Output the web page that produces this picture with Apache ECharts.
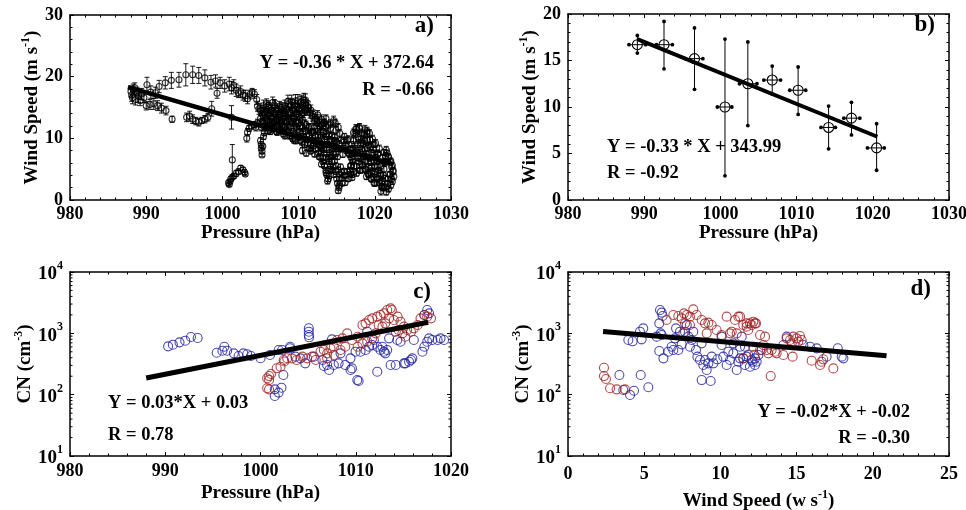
<!DOCTYPE html>
<html><head><meta charset="utf-8">
<script src="https://cdn.jsdelivr.net/npm/echarts@6/dist/echarts.min.js"></script>
<style>html,body{margin:0;padding:0;background:#fff}#c{width:966px;height:510px}</style>
</head><body><div id="c"></div><script>
// ---------- Panel a: pressure vs wind speed (with error bars) [pressure, wind, err]
const aPoints = [
[988.0,17.6,0.9],[988.1,17.0,1.0],[988.2,16.6,1.0],[988.3,17.9,0.9],[988.5,18.2,0.8],[988.6,16.3,0.9],[988.8,17.4,0.9],[989.0,16.8,1.0],[989.2,16.1,0.8],[989.4,17.2,0.9],[989.7,16.6,0.8],
[990.0,15.3,0.7],[990.5,15.5,0.8],[991.0,15.6,0.9],[991.5,15.3,0.8],[992.0,14.9,0.8],[992.6,14.5,0.7],[993.4,13.1,0.5],
[990.1,18.7,1.2],[990.6,17.5,1.0],[991.2,17.4,0.9],[991.7,18.4,1.0],[992.5,19.0,1.0],[993.3,19.4,1.3],[994.3,19.5,1.2],[995.2,20.3,1.8],[996.1,20.3,1.4],[996.9,20.2,1.3],[997.7,19.8,1.3],[998.5,19.1,1.1],[999.1,19.3,1.0],[999.3,17.3,0.8],[999.7,19.0,0.9],[1000.3,18.5,1.0],[1000.9,18.8,1.1],[1001.2,18.2,1.0],[1001.5,18.6,0.9],[1001.8,17.8,1.0],[1002.1,17.4,0.8],[1002.4,17.6,0.9],[1002.7,17.0,0.8],[1003.0,16.9,0.9],[1003.3,16.4,0.8],[1003.6,17.1,0.7],[1003.9,17.5,0.6],[1004.2,17.2,0.7],[1004.5,16.3,0.8],[1004.6,15.2,0.8],[1004.8,14.8,0.9],
[995.3,13.4,0.7],[995.7,13.6,0.8],[996.1,13.1,0.7],[996.5,12.8,0.6],[996.9,12.6,0.6],[997.3,12.9,0.5],[997.7,13.1,0.6],[998.1,13.4,0.6],[998.6,14.8,1.2],[1001.2,13.4,1.9],[1001.3,6.5,2.5],
[1000.8,2.8,0.4],[1000.9,2.5,0.3],[1001.0,3.0,0.3],[1001.1,3.4,0.4],[1001.3,3.7,0.4],[1001.5,3.9,0.4],[1001.8,4.3,0.5],[1002.1,4.6,0.4],[1002.4,5.2,0.4],[1002.7,4.9,0.4],[1002.9,4.5,0.4],[1003.0,4.2,0.3],
[1003.2,10.0,0.6],[1003.3,11.0,0.6],[1003.5,11.6,0.5],[1003.8,12.0,0.5],[1004.2,12.2,0.5],
[1005.0,9.6,0.5],[1005.1,9.0,0.5],[1005.1,8.4,0.4],[1005.2,7.9,0.4],[1005.2,7.3,0.3],[1005.3,8.7,0.4],[1005.4,10.3,0.5],[1005.5,10.9,0.5],
[1005.0,14.5,0.8],[1005.3,13.8,0.7],[1005.6,14.2,0.8],[1005.9,13.0,0.7],[1006.1,15.0,0.8],[1006.3,13.6,0.8],[1006.5,12.5,0.6],[1006.7,14.3,0.7],[1006.9,15.2,0.9],[1007.1,13.1,0.7],[1007.3,14.6,0.8],[1007.5,12.2,0.6],[1007.7,15.0,0.8],[1007.9,13.9,0.8],[1008.1,11.8,0.6],[1008.3,14.8,0.8],[1008.5,12.9,0.7],[1008.7,15.6,0.9],[1008.9,14.2,0.8],[1009.1,16.0,1.0],[1009.3,13.4,0.7],[1009.5,15.3,0.9],[1009.7,12.4,0.6],[1009.9,16.1,1.0],[1010.1,14.8,0.9],[1010.3,15.8,1.0],[1010.5,13.0,0.7],[1010.7,16.2,1.1],[1010.9,15.4,0.9],[1011.1,14.6,0.8],[1011.3,15.0,0.9],[1011.5,14.1,0.8],[1011.8,13.6,0.8],[1012.1,12.8,0.7],[1012.4,13.1,0.7],[1012.7,12.6,0.7],[1013.0,12.2,0.6],[1013.3,12.5,0.6],[1013.6,11.9,0.6],[1013.9,12.1,0.6],[1014.2,11.6,0.6],[1014.6,12.9,0.7],[1014.9,11.3,0.6],
[1005.2,12.6,0.6],[1005.8,15.6,0.8],[1006.2,12.0,0.6],[1006.6,15.8,0.9],[1007.0,12.8,0.6],[1007.4,13.8,0.7],[1007.8,12.9,0.7],[1008.2,13.5,0.7],[1008.6,11.2,0.6],[1009.0,12.6,0.6],[1009.4,14.4,0.8],[1009.8,13.8,0.7],[1010.2,12.0,0.6],[1010.6,14.2,0.8],[1011.0,12.2,0.6],[1011.4,11.8,0.6],[1011.9,11.0,0.6],[1012.5,11.6,0.6],[1013.2,10.9,0.6],[1014.0,10.4,0.5],
[1005.6,11.8,0.6],[1006.0,11.2,0.5],[1006.4,11.5,0.6],[1006.8,11.9,0.6],[1007.2,11.0,0.5],[1007.6,11.4,0.6],[1008.0,10.7,0.5],[1008.4,11.2,0.6],[1008.8,10.4,0.5],[1009.2,10.0,0.5],[1009.6,9.6,0.5],[1010.0,10.2,0.5],[1010.4,9.4,0.5],[1010.8,9.0,0.5],[1011.2,9.3,0.5],[1011.6,8.4,0.4],[1012.0,8.8,0.5],[1012.4,9.5,0.5],[1012.8,8.9,0.5],[1009.4,11.6,0.6],[1010.6,11.0,0.6],[1011.4,10.6,0.6],[1012.2,10.4,0.5],[1012.9,10.1,0.5],
[1010.5,8.0,0.5],[1011.0,7.6,0.5],[1011.6,7.9,0.4],[1012.1,7.4,0.4],
[1013.0,7.9,0.5],[1013.2,6.8,0.4],[1013.4,5.6,0.4],[1013.6,4.4,0.4],[1013.8,3.1,0.5],[1014.0,3.9,0.4],[1014.2,5.0,0.4],[1014.4,6.3,0.4],[1014.6,7.4,0.5],[1014.8,8.6,0.5],[1015.0,9.4,0.5],[1015.2,1.5,0.4],[1015.3,2.3,0.4],[1015.4,3.4,0.4],[1015.6,4.5,0.4],[1015.1,7.0,0.4],[1015.6,8.3,0.5],[1015.9,9.7,0.5],[1016.2,8.8,0.5],[1016.0,4.0,0.4],[1016.4,4.6,0.4],[1016.8,4.2,0.4],[1017.2,4.6,0.5],[1017.6,4.3,0.4],[1013.5,9.0,0.5],[1014.0,8.2,0.5],[1014.3,9.6,0.5],[1013.7,10.7,0.5],[1014.7,10.2,0.5],[1015.4,10.8,0.6],[1016.0,10.3,0.5],[1016.5,9.9,0.5],
[1012.7,7.0,0.4],[1013.0,5.8,0.4],[1012.9,8.6,0.5],[1013.9,6.6,0.4],[1014.5,5.3,0.4],[1014.9,4.6,0.4],[1015.5,5.4,0.4],[1015.8,7.4,0.5],[1016.3,8.0,0.5],[1016.1,2.8,0.4],[1016.5,3.4,0.4],[1017.0,3.6,0.4],[1016.9,5.6,0.4],[1014.1,7.0,0.4],[1013.3,8.2,0.5],
[1016.7,7.4,0.5],[1017.0,8.3,0.5],[1017.2,9.6,0.5],[1017.4,10.8,0.6],[1017.6,11.5,0.7],[1017.8,10.2,0.6],[1018.0,11.7,0.7],[1018.2,9.2,0.6],[1018.4,8.0,0.5],[1018.6,10.6,0.6],[1018.8,7.1,0.5],[1019.0,9.7,0.6],[1019.2,6.2,0.5],[1019.4,8.6,0.5],[1019.6,5.3,0.5],[1019.8,7.6,0.5],[1020.0,4.6,0.5],[1020.1,9.2,0.6],[1020.2,3.6,0.5],[1017.1,6.6,0.5],[1017.5,7.8,0.5],[1017.9,6.8,0.5],[1018.3,5.8,0.5],[1018.7,5.0,0.5],[1019.1,4.3,0.5],[1019.5,3.5,0.5],[1019.9,2.8,0.5],
[1017.3,5.5,0.5],[1018.1,4.8,0.5],[1018.5,9.8,0.6],[1019.3,10.8,0.6],[1019.7,9.9,0.6],[1019.9,6.4,0.5],[1020.3,5.5,0.5],[1020.4,7.4,0.5],[1019.0,11.2,0.6],[1018.9,3.8,0.5],
[1020.8,1.4,0.6],[1020.9,2.2,0.5],[1021.0,3.1,0.5],[1021.1,4.0,0.5],[1021.2,5.0,0.5],[1021.3,6.0,0.5],[1021.4,7.2,0.5],[1021.5,8.1,0.6],[1021.6,7.6,0.5],[1021.8,6.9,0.5],[1022.0,6.2,0.5],[1022.2,5.4,0.5],[1022.4,4.6,0.5],[1022.5,3.8,0.5],[1022.3,3.0,0.5],[1022.1,2.4,0.5],[1021.8,1.8,0.5],[1021.5,1.3,0.5],[1021.2,2.0,0.5],[1020.6,2.8,0.5],[1020.7,4.3,0.5],[1021.7,3.4,0.4],[1022.0,4.2,0.4]
];
// more samples from the dense part of the trajectory
const aPointsDense = [
[1008.6,16.0,1.0],[1009.6,16.1,1.0],[1010.4,15.9,1.1],[1010.9,16.2,1.0],
[1005.4,15.3,0.9],[1006.0,15.3,0.8],[1006.8,15.4,0.9],[1007.5,15.2,0.8],[1008.2,15.3,0.9],[1009.0,15.4,0.9],[1009.8,15.2,0.9],[1010.6,15.3,1.0],[1011.2,15.2,0.9],
[1005.2,14.6,0.8],[1005.8,14.7,0.8],[1006.4,14.5,0.8],[1007.0,14.6,0.8],[1007.8,14.7,0.8],[1008.4,14.5,0.8],[1009.2,14.6,0.9],[1010.0,14.7,0.8],[1010.8,14.5,0.8],[1011.6,14.6,0.8],
[1005.5,13.9,0.7],[1006.2,13.9,0.7],[1006.9,14.0,0.8],[1007.6,13.8,0.7],[1008.3,13.9,0.7],[1009.0,14.0,0.8],[1009.7,13.9,0.7],[1010.4,13.8,0.7],[1011.9,13.9,0.7],[1012.5,13.8,0.7],
[1005.0,13.2,0.7],[1005.7,13.3,0.7],[1006.5,13.2,0.7],[1007.2,13.2,0.7],[1007.9,13.3,0.7],[1008.7,13.2,0.7],[1009.4,13.2,0.7],[1010.2,13.3,0.7],[1012.2,13.2,0.7],[1013.0,13.1,0.7],[1013.6,13.2,0.6],
[1004.6,12.5,0.6],[1005.4,12.5,0.6],[1006.0,12.6,0.6],[1006.8,12.4,0.6],[1007.6,12.5,0.6],[1008.4,12.5,0.6],[1009.2,12.6,0.6],[1010.0,12.5,0.6],[1010.8,12.4,0.6],[1013.4,12.5,0.6],[1014.2,12.4,0.6],[1014.8,12.5,0.6],
[1004.4,11.8,0.6],[1005.1,11.8,0.6],[1005.9,11.9,0.6],[1006.7,11.7,0.6],[1007.4,11.8,0.6],[1008.1,11.8,0.6],[1008.9,11.9,0.6],[1009.7,11.8,0.6],[1010.5,11.7,0.6],[1011.3,11.8,0.6],[1012.0,11.8,0.6],[1012.8,11.9,0.6],[1015.2,11.8,0.6],
[1006.3,11.1,0.5],[1007.1,11.1,0.5],[1007.9,11.2,0.5],[1008.6,11.0,0.5],[1009.3,11.1,0.5],[1010.1,11.1,0.5],[1010.9,11.2,0.5],[1011.7,11.0,0.5],[1012.5,11.1,0.5],[1013.3,11.1,0.5],
[1008.2,10.4,0.5],[1009.0,10.4,0.5],[1009.8,10.5,0.5],[1010.6,10.3,0.5],[1011.4,10.4,0.5],[1012.2,10.4,0.5],[1012.9,10.5,0.5],[1013.6,10.3,0.5],[1014.4,10.4,0.5],
[1009.4,9.7,0.5],[1010.2,9.7,0.5],[1011.0,9.8,0.5],[1011.8,9.6,0.5],[1012.6,9.7,0.5],[1013.4,9.7,0.5],[1014.1,9.8,0.5],[1014.8,9.6,0.5],[1015.6,9.7,0.5],[1016.4,9.7,0.5],[1017.9,9.8,0.6],[1018.7,9.6,0.6],[1019.4,9.7,0.6],
[1010.8,9.0,0.5],[1011.6,9.0,0.5],[1012.4,9.1,0.5],[1013.1,8.9,0.5],[1013.8,9.0,0.5],[1014.6,9.0,0.5],[1015.3,9.1,0.5],[1016.1,8.9,0.5],[1017.0,9.0,0.5],[1017.7,9.0,0.5],[1018.5,9.1,0.5],[1019.2,8.9,0.5],[1019.9,9.0,0.5],
[1011.4,8.3,0.5],[1012.2,8.3,0.5],[1013.0,8.4,0.5],[1013.7,8.2,0.5],[1014.5,8.3,0.5],[1015.2,8.3,0.5],[1016.0,8.4,0.5],[1016.8,8.2,0.5],[1017.5,8.3,0.5],[1018.3,8.3,0.5],[1019.0,8.4,0.5],[1019.8,8.2,0.5],[1020.6,8.3,0.6],
[1012.6,7.6,0.4],[1013.3,7.6,0.4],[1014.1,7.7,0.4],[1014.9,7.5,0.4],[1016.6,7.6,0.5],[1017.4,7.6,0.5],[1018.1,7.7,0.5],[1018.9,7.5,0.5],[1019.6,7.6,0.5],[1020.4,7.6,0.5],[1021.2,7.7,0.5],
[1012.9,6.9,0.4],[1013.6,6.9,0.4],[1014.4,7.0,0.4],[1016.9,6.9,0.4],[1017.7,6.9,0.5],[1018.5,7.0,0.5],[1019.3,6.8,0.5],[1020.1,6.9,0.5],[1021.0,6.9,0.5],[1021.8,7.0,0.5],
[1013.2,6.2,0.4],[1014.0,6.2,0.4],[1014.7,6.3,0.4],[1017.1,6.2,0.4],[1017.9,6.2,0.5],[1018.7,6.3,0.5],[1019.5,6.1,0.5],[1020.3,6.2,0.5],[1021.3,6.2,0.5],[1022.1,6.3,0.5],
[1013.4,5.5,0.4],[1014.2,5.5,0.4],[1014.9,5.6,0.4],[1016.8,5.5,0.4],[1017.6,5.5,0.4],[1018.4,5.6,0.5],[1019.2,5.4,0.5],[1020.0,5.5,0.5],[1020.8,5.5,0.5],[1022.3,5.6,0.5],
[1013.6,4.8,0.4],[1014.4,4.8,0.4],[1015.2,4.9,0.4],[1016.0,4.7,0.4],[1016.7,4.8,0.4],[1018.0,4.8,0.4],[1018.8,4.9,0.5],[1019.6,4.7,0.5],[1020.5,4.8,0.5],[1022.4,4.8,0.5],
[1013.7,4.1,0.4],[1014.6,4.1,0.4],[1015.4,4.2,0.4],[1016.2,4.0,0.4],[1017.0,4.1,0.4],[1019.2,4.1,0.5],[1020.0,4.2,0.5],[1020.8,4.0,0.5],[1022.0,4.1,0.5],
[1013.9,3.4,0.4],[1015.0,3.4,0.4],[1015.6,3.5,0.4],[1019.6,3.4,0.5],[1020.4,3.4,0.5],[1021.4,3.5,0.5],[1022.2,3.4,0.5],
[1015.1,2.7,0.4],[1015.7,2.7,0.4],[1020.0,2.7,0.5],[1020.9,2.8,0.5],[1021.7,2.7,0.5],
[1015.3,2.0,0.4],[1021.0,2.0,0.5],[1021.6,2.1,0.5],
[1017.5,11.5,0.7],[1018.0,11.6,0.7],[1018.7,11.4,0.7],[1017.2,10.9,0.6],[1018.3,10.9,0.6],[1019.0,10.8,0.6]
];
const aFitPressure = [987.6, 1022.4];
const aFitWind = [18.3, 5.8];

// ---------- Panel b: binned means
const bPressure   = [989.1, 992.6, 996.6, 1000.6, 1003.6, 1006.8, 1010.2, 1014.2, 1017.2, 1020.5];
const bPressureLo = [988.0, 991.6, 995.4, 999.6, 1002.5, 1005.7, 1009.1, 1013.2, 1016.2, 1019.3];
const bPressureHi = [990.2, 993.7, 997.7, 1001.5, 1004.8, 1007.9, 1011.2, 1015.1, 1018.3, 1021.5];
const bWind   = [16.7, 16.7, 15.2, 10.0, 12.5, 12.9, 11.8, 7.8, 8.8, 5.6];
const bWindLo = [15.8, 14.1, 11.9, 2.6, 8.0, 11.4, 9.2, 5.5, 7.0, 3.2];
const bWindHi = [17.7, 19.2, 18.5, 17.3, 17.0, 14.4, 14.3, 10.1, 10.5, 8.2];
const bFitPressure = [989.1, 1020.6];
const bFitWind = [17.3, 6.8];

// ---------- Panel c: pressure vs CN
const cBlue = [
[990.3,614],[990.8,653],[991.5,713],[992.1,759],[992.7,871],[993.4,839],
[995.4,483],[996.0,521],[996.2,605],[996.5,521],[997.2,472],[997.7,427],[998.2,472],[998.6,455],[999.0,427],[1000.0,392],[1001.0,444],[1001.9,535],[1002.4,209],[1001.5,122],[1001.9,108],[1002.2,130],[1001.5,95],
[1005.07,1208],[1005.07,1064],[1005.07,940],[1005.1,861],[1003.1,570],[1003.67,417],[1004.2,391],[1004.7,324],[1005.6,417],[1006.5,367],[1006.65,293],[1007.2,252],[1007.0,305],[1007.7,305],[1008.2,324],[1008.4,472],[1008.9,305],[1009.45,391],[1009.6,268],[1009.45,252],[1009.98,502],[1010.16,173],[1010.3,167],[1010.5,502],[1011.03,535],[1011.4,605],[1011.73,644],[1011.9,778],[1012.26,605],[1012.6,535],[1012.8,605],[1012.96,502],[1013.1,472],[1013.3,535],[1012.26,237],[1011.2,1064],[1013.5,828],[1013.66,305],[1014.2,305],[1014.36,778],[1014.7,731],[1015.06,324],[1015.2,324],[1015.6,345],[1015.8,367],[1015.94,391],[1016.1,778],[1017.0,502],[1017.2,605],[1017.5,731],[1017.7,828],[1018.04,778],[1018.6,778],[1018.9,828],[1019.27,778],[1017.5,2400],[1017.7,2118],[1017.2,1988],[1002.27,535],[1007.5,798],[1003.1,605]
];
const cRed = [
[1000.7,185],[1000.9,201],[1001.1,217],[1000.9,174],[1000.7,127],[1000.9,122],[1001.7,269],[1002.1,286],[1002.5,347],[1002.8,392],
[1002.44,367],[1003.3,391],[1003.8,367],[1004.4,417],[1004.9,391],[1005.4,417],[1005.8,367],[1006.3,502],[1006.65,535],[1007.0,472],[1007.35,569],[1007.7,605],[1008.05,778],[1008.6,828],[1009.1,1000],[1009.6,778],[1010.2,881],[1010.7,1368],[1011.03,1455],[1011.4,1648],[1011.73,1754],[1012.26,1870],[1012.6,1990],[1012.96,2120],[1013.3,2400],[1013.66,2553],[1013.8,2400],[1013.5,1754],[1013.1,1455],[1012.8,1285],[1012.4,1368],[1014.0,1648],[1014.4,1870],[1014.7,1549],[1015.06,1285],[1015.4,1133],[1015.8,1064],[1016.1,1205],[1016.5,1368],[1016.8,1754],[1017.2,1990],[1017.5,1870],[1017.9,1754],[1014.2,1064],[1014.5,1133],[1014.9,1000],[1015.2,881],[1012.1,1000],[1011.73,828],[1011.2,731],[1010.7,687],[1010.2,605],[1008.9,605],[1008.4,535],[1007.7,444],[1007.0,391]
];
const cFitPressure = [988.0, 1017.6];
const cFitCN = [187, 1520];

// ---------- Panel d: wind speed vs CN
const dBlue = [
[3.37,209],[3.63,119],[4.07,99],[4.33,116],[5.27,132],[4.77,209],[3.96,778],[4.24,741],[4.83,798],[4.94,1205],[4.72,1064],[5.82,883],[5.99,1455],[6.04,2400],[6.15,2173],[6.21,1919],[6.08,1000],[6.15,940],[5.99,515],[6.26,391],[6.58,502],[6.8,605],[6.91,535],[7.02,828],[7.09,1205],[7.24,535],[7.46,661],[7.68,1064],[7.9,883],[8.0,605],[8.12,778],[8.22,1064],[8.4,535],[8.49,417],[8.66,367],[8.88,305],[8.99,367],[9.1,252],[8.77,173],[9.36,167],[9.21,324],[9.43,417],[9.54,324],[9.8,377],[10.08,883],[10.19,417],[10.41,305],[10.52,502],[10.63,367],[10.85,472],[11.07,252],[11.18,345],[11.29,391],[11.61,305],[11.72,417],[11.94,286],[12.12,345],[12.27,391],[10.85,687],[10.08,646],[8.77,687],[7.79,1368],[7.35,1064],
[11.4,883],[11.61,605],[11.83,444],[12.05,367],[12.27,305],[12.38,345],[12.49,444],[12.71,535],[14.13,646],[14.35,883],[15.44,646],[15.88,605],[16.32,569],[16.97,417],[17.96,417],[18.07,391],[11.29,605],[11.5,391],[17.7,570]
];
const dRed = [
[2.36,275],[2.36,201],[2.49,180],[2.76,127],[3.19,122],[3.74,122],[6.47,1648],[7.24,1919],[7.46,1754],[7.79,1990],[8.0,1870],[8.22,2460],[8.44,1990],[8.77,1648],[8.99,1455],[9.21,1493],[9.43,1368],[9.75,1133],[10.08,940],[10.41,1870],[10.74,1064],[10.96,1648],[11.18,1870],[11.5,1368],[11.72,1285],[11.94,1455],[12.16,1549],[12.34,1455],[6.91,1990],[7.61,2118],[7.68,1455],[8.0,1368],[9.1,1000],[10.63,1000],[11.07,1000],[11.5,391],[12.23,444],[7.57,1000],
[11.72,1455],[12.05,1368],[12.27,1455],[11.83,1133],[12.6,940],[12.93,883],[12.82,646],[13.04,535],[13.15,472],[13.36,535],[13.58,502],[13.69,472],[14.13,444],[13.3,201],[14.35,828],[14.57,778],[14.79,883],[15.0,828],[15.22,906],[15.33,778],[15.11,731],[14.68,687],[15.99,358],[16.64,345],[16.54,305],[16.75,377],[17.41,268],[14.74,417],[11.29,1870],[12.16,605],[12.6,535]
];
const dFitWind = [2.3, 20.9];
const dFitCN = [1070, 430];

// log minor tick values
const logMinorTicks = [20,30,40,50,60,70,80,90,200,300,400,500,600,700,800,900,2000,3000,4000,5000,6000,7000,8000,9000];

// labels
const texts = {
  a: ['a)', 'Y = -0.36 * X + 372.64', 'R = -0.66'],
  b: ['b)', 'Y = -0.33 * X + 343.99', 'R = -0.92'],
  c: ['c)', 'Y = 0.03*X + 0.03', 'R = 0.78'],
  d: ['d)', 'Y = -0.02*X + -0.02', 'R = -0.30']
};

// ---------- rendering
const FONT = '"Liberation Serif","Times New Roman",serif';
const TICK_FS = 18, NAME_FS = 19, EQ_FS = 18.5, PANEL_FS = 23;
const BLUE = '#1f1f9e', RED = '#9e1f1f';

const nameRich = {
  n: {fontFamily: FONT, fontWeight: 'bold', fontSize: NAME_FS, color: '#000'},
  sup: {fontFamily: FONT, fontWeight: 'bold', fontSize: 12, color: '#000', verticalAlign: 'top', lineHeight: 24},
  base: {fontFamily: FONT, fontWeight: 'bold', fontSize: TICK_FS + 1, color: '#000', lineHeight: 24, verticalAlign: 'bottom'}
};
const plain = v => String(v);

function xAxes(grid, min, max, interval, split, name, labelMargin, nameGap) {
  const common = {
    type: 'value', gridIndex: grid, min, max, interval,
    axisLine: {show: true, onZero: false, lineStyle: {color: '#000', width: 1.5}},
    axisTick: {show: true, inside: true, length: 4, lineStyle: {color: '#000', width: 1}},
    minorTick: {show: true, splitNumber: split, length: 2.5, lineStyle: {color: '#000', width: 1}},
    splitLine: {show: false}, minorSplitLine: {show: false}
  };
  return [
    Object.assign({}, common, {position: 'bottom',
      axisLabel: {show: true, margin: labelMargin, formatter: plain, fontFamily: FONT, fontWeight: 'bold', fontSize: TICK_FS, color: '#000'},
      name: name, nameLocation: 'middle', nameGap: nameGap,
      nameTextStyle: {fontFamily: FONT, fontWeight: 'bold', fontSize: NAME_FS, color: '#000', rich: nameRich}}),
    Object.assign({}, common, {position: 'top', axisLabel: {show: false}})
  ];
}
function yAxesValue(grid, min, max, interval, split, name, nameGap) {
  const common = {
    type: 'value', gridIndex: grid, min, max, interval,
    axisLine: {show: true, onZero: false, lineStyle: {color: '#000', width: 1.5}},
    axisTick: {show: true, inside: true, length: 4, lineStyle: {color: '#000', width: 1}},
    minorTick: {show: true, splitNumber: split, length: 2.5, lineStyle: {color: '#000', width: 1}},
    splitLine: {show: false}, minorSplitLine: {show: false}
  };
  return [
    Object.assign({}, common, {position: 'left',
      axisLabel: {show: true, margin: 7, formatter: plain, fontFamily: FONT, fontWeight: 'bold', fontSize: TICK_FS, color: '#000'},
      name: name, nameLocation: 'middle', nameGap: nameGap,
      nameTextStyle: {fontFamily: FONT, fontWeight: 'bold', fontSize: NAME_FS, color: '#000', rich: nameRich}}),
    Object.assign({}, common, {position: 'right', axisLabel: {show: false}})
  ];
}
function yAxesLog(grid, name, nameGap) {
  const common = {
    type: 'log', logBase: 10, gridIndex: grid, min: 10, max: 10000,
    axisLine: {show: true, onZero: false, lineStyle: {color: '#000', width: 1.5}},
    axisTick: {show: true, inside: true, length: 4, lineStyle: {color: '#000', width: 1}},
    minorTick: {show: false},
    splitLine: {show: false}
  };
  return [
    Object.assign({}, common, {position: 'left',
      axisLabel: {show: true, margin: 7,
        formatter: v => '{base|10}{sup|' + Math.round(Math.log10(v)) + '}',
        rich: nameRich},
      name: name, nameLocation: 'middle', nameGap: nameGap,
      nameTextStyle: {fontFamily: FONT, fontWeight: 'bold', fontSize: NAME_FS, color: '#000', rich: nameRich}}),
    Object.assign({}, common, {position: 'right', axisLabel: {show: false}})
  ];
}

const xAxis = [].concat(
  xAxes(0, 980, 1030, 10, 5, 'Pressure (hPa)', 5, 19),
  xAxes(1, 980, 1030, 10, 5, 'Pressure (hPa)', 5, 19),
  xAxes(2, 980, 1020, 10, 5, 'Pressure (hPa)', 6, 28),
  xAxes(3, 0, 25, 5, 5, '{n|Wind Speed (w s}{sup|-1}{n|)}', 9, 33)
);
const yAxis = [].concat(
  yAxesValue(0, 0, 30, 10, 5, '{n|Wind Speed (m s}{sup|-1}{n|)}', 26),
  yAxesValue(1, 0, 20, 5, 5, '{n|Wind Speed (m s}{sup|-1}{n|)}', 26),
  yAxesLog(2, '{n|CN (cm}{sup|-3}{n|)}', 29),
  yAxesLog(3, '{n|CN (cm}{sup|-3}{n|)}', 29)
);

function errBarA(params, api) {
  const x = api.value(0), y = api.value(1), e = api.value(2);
  const t = api.coord([x, y + e]), b = api.coord([x, y - e]);
  const w = 2.5;
  const st = {stroke: '#000', lineWidth: 0.9};
  return {type: 'group', children: [
    {type: 'line', shape: {x1: t[0], y1: t[1], x2: b[0], y2: b[1]}, style: st},
    {type: 'line', shape: {x1: t[0] - w, y1: t[1], x2: t[0] + w, y2: t[1]}, style: st},
    {type: 'line', shape: {x1: b[0] - w, y1: b[1], x2: b[0] + w, y2: b[1]}, style: st}
  ]};
}
function markerB(params, api) {
  const p = api.value(0), w = api.value(1), pl = api.value(2), ph = api.value(3), wl = api.value(4), wh = api.value(5);
  const c = api.coord([p, w]);
  const l = api.coord([pl, w]), r = api.coord([ph, w]);
  const lo = api.coord([p, wl]), hi = api.coord([p, wh]);
  const st = {stroke: '#000', lineWidth: 1};
  const dot = (pt) => ({type: 'circle', shape: {cx: pt[0], cy: pt[1], r: 1.9}, style: {fill: '#000'}});
  return {type: 'group', children: [
    {type: 'line', shape: {x1: lo[0], y1: lo[1], x2: hi[0], y2: hi[1]}, style: st},
    {type: 'line', shape: {x1: l[0], y1: l[1], x2: r[0], y2: r[1]}, style: st},
    dot(lo), dot(hi), dot(l), dot(r),
    {type: 'circle', shape: {cx: c[0], cy: c[1], r: 5}, style: {fill: 'none', stroke: '#000', lineWidth: 1.1}}
  ]};
}
function minorTicksRender(xLo, xHi) {
  return function (params, api) {
    const v = api.value(1);
    const a = api.coord([xLo, v]), b = api.coord([xHi, v]);
    const st = {stroke: '#000', lineWidth: 1};
    return {type: 'group', children: [
      {type: 'line', shape: {x1: a[0], y1: a[1], x2: a[0] + 2.5, y2: a[1]}, style: st},
      {type: 'line', shape: {x1: b[0] - 2.5, y1: b[1], x2: b[0], y2: b[1]}, style: st}
    ]};
  };
}
const openCircle = (color, size, bw) => ({
  type: 'scatter', symbol: 'circle', symbolSize: size, silent: true,
  itemStyle: {color: 'rgba(0,0,0,0)', borderColor: color, borderWidth: bw}
});
const fitLine = (xi, yi, xs, ys, width) => ({
  type: 'line', xAxisIndex: xi, yAxisIndex: yi, silent: true, symbol: 'none', z: 5,
  data: xs.map((x, i) => [x, ys[i]]),
  lineStyle: {color: '#000', width: width}
});

const aAll = aPoints.concat(aPointsDense);
const series = [
  // panel a
  {type: 'custom', xAxisIndex: 0, yAxisIndex: 0, silent: true, renderItem: errBarA, data: aAll},
  Object.assign(openCircle('#000', 6, 1.1), {xAxisIndex: 0, yAxisIndex: 0, data: aAll.map(d => [d[0], d[1]])}),
  fitLine(0, 0, aFitPressure, aFitWind, 4.5),
  // panel b
  fitLine(2, 2, bFitPressure, bFitWind, 4),
  {type: 'custom', xAxisIndex: 2, yAxisIndex: 2, silent: true, renderItem: markerB, z: 6,
   data: bPressure.map((p, i) => [p, bWind[i], bPressureLo[i], bPressureHi[i], bWindLo[i], bWindHi[i]])},
  // panel c
  {type: 'custom', xAxisIndex: 4, yAxisIndex: 4, silent: true, renderItem: minorTicksRender(980, 1020),
   data: logMinorTicks.map(v => [980, v])},
  Object.assign(openCircle(BLUE, 9, 1.1), {xAxisIndex: 4, yAxisIndex: 4, data: cBlue}),
  Object.assign(openCircle(RED, 9, 1.1), {xAxisIndex: 4, yAxisIndex: 4, data: cRed}),
  fitLine(4, 4, cFitPressure, cFitCN, 5),
  // panel d
  {type: 'custom', xAxisIndex: 6, yAxisIndex: 6, silent: true, renderItem: minorTicksRender(0, 25),
   data: logMinorTicks.map(v => [0, v])},
  Object.assign(openCircle(BLUE, 9, 1.1), {xAxisIndex: 6, yAxisIndex: 6, data: dBlue}),
  Object.assign(openCircle(RED, 9, 1.1), {xAxisIndex: 6, yAxisIndex: 6, data: dRed}),
  fitLine(6, 6, dFitWind, dFitCN, 5)
];

function txt(s, x, y, align, fs) {
  return {type: 'text', silent: true, z: 10,
    style: {text: s, x: x, y: y, textAlign: align, textVerticalAlign: 'middle',
      font: 'bold ' + fs + 'px ' + FONT, fill: '#000'}};
}
const graphic = [
  txt(texts.a[0], 434, 26, 'right', PANEL_FS),
  txt(texts.a[1], 434, 63, 'right', EQ_FS),
  txt(texts.a[2], 434, 90, 'right', EQ_FS),
  txt(texts.b[0], 935, 25, 'right', PANEL_FS),
  txt(texts.b[1], 607, 147, 'left', EQ_FS),
  txt(texts.b[2], 607, 173, 'left', EQ_FS),
  txt(texts.c[0], 431, 292, 'right', PANEL_FS),
  txt(texts.c[1], 108, 403, 'left', EQ_FS),
  txt(texts.c[2], 108, 435, 'left', EQ_FS),
  txt(texts.d[0], 931, 289, 'right', PANEL_FS),
  txt(texts.d[1], 910, 412, 'right', EQ_FS),
  txt(texts.d[2], 910, 438, 'right', EQ_FS)
];

const chart = echarts.init(document.getElementById('c'), null, {renderer: 'canvas'});
chart.setOption({
  animation: false,
  backgroundColor: '#fff',
  grid: [
    {left: 70, top: 15, width: 381, height: 185, containLabel: false, outerBoundsMode: 'none'},
    {left: 568, top: 14, width: 381, height: 186, containLabel: false, outerBoundsMode: 'none'},
    {left: 70, top: 272, width: 381, height: 184, containLabel: false, outerBoundsMode: 'none'},
    {left: 568, top: 272, width: 381, height: 184, containLabel: false, outerBoundsMode: 'none'}
  ],
  xAxis: xAxis,
  yAxis: yAxis,
  series: series,
  graphic: graphic
});
</script></body></html>
